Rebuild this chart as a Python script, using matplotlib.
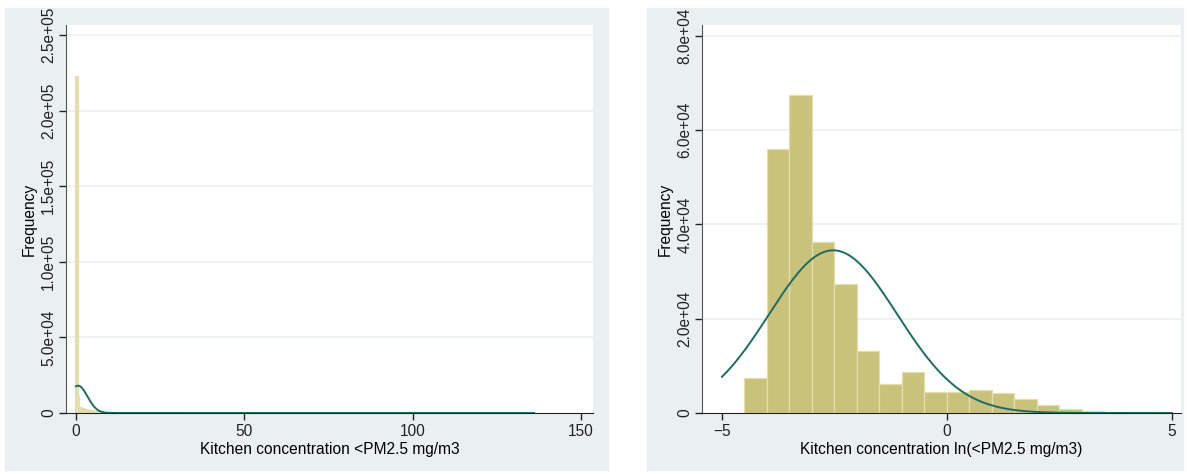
import numpy as np
from matplotlib import pyplot as plt
from matplotlib.patches import Rectangle

# left panel: raw concentration, bin width 0.5 starting at 0
left_bin_width = 0.5
left_counts = [222000, 10500, 3200, 2700, 2400, 2100, 1800, 1500, 1300, 1100,
               900, 800, 650, 550, 450, 400, 300, 250, 200, 160, 130, 100, 80]
left_mean, left_sd = 0.6, 2.8
left_range = (0, 136)
left_xticks = [0, 50, 100, 150]
left_yticks = [0, 5.0e4, 1.0e5, 1.5e5, 2.0e5, 2.5e5]
left_ytick_labels = ['0', '5.0e+04', '1.0e+05', '1.5e+05', '2.0e+05', '2.5e+05']

# right panel: log concentration, bin width 0.5 starting at -4.5
right_bin_start = -4.5
right_bin_width = 0.5
right_counts = [7400, 56000, 67500, 36200, 27300, 13200, 6100, 8700, 4500, 4400,
                4800, 4200, 3000, 1700, 900, 490, 150, 50]
right_mean, right_sd = -2.53, 1.425
right_range = (-5, 5)
right_xticks = [-5, 0, 5]
right_yticks = [0, 2.0e4, 4.0e4, 6.0e4, 8.0e4]
right_ytick_labels = ['0', '2.0e+04', '4.0e+04', '6.0e+04', '8.0e+04']

BAR = '#c9c27c'
BAR_EDGE = '#e2deaf'
CURVE = '#1f6b5f'
PANEL = '#eaf0f2'

plt.rcParams['font.family'] = ['Liberation Sans', 'DejaVu Sans']
plt.rcParams['font.size'] = 11.2


def normal_overlay(mean, sd, n, width, lo, hi):
    x = np.linspace(lo, hi, 600)
    y = n * width / (sd * np.sqrt(2 * np.pi)) * np.exp(-0.5 * ((x - mean) / sd) ** 2)
    return x, y


def draw_hist(ax, edges, counts, mean, sd, width, xrange_, xticks, yticks, ylabels,
              xlim, ylim, xlabel, edge_lw=0.9):
    ax.set_facecolor('white')
    ax.bar(edges[:-1], counts, width=np.diff(edges), align='edge',
           color=BAR, edgecolor=BAR_EDGE, linewidth=edge_lw, zorder=2)
    x, y = normal_overlay(mean, sd, sum(counts), width, *xrange_)
    ax.plot(x, y, color=CURVE, lw=1.4, zorder=3)
    ax.set_xlim(*xlim)
    ax.set_ylim(*ylim)
    ax.set_xticks(xticks)
    ax.set_yticks(yticks)
    ax.set_yticklabels(ylabels, rotation=90, va='center')
    for yt in yticks[1:]:
        ax.axhline(yt, color=PANEL, lw=1.2, zorder=1)
    for s in ['top', 'right']:
        ax.spines[s].set_visible(False)
    ax.spines['left'].set_color('#555555')
    ax.spines['bottom'].set_color('#222222')
    ax.tick_params(direction='out', length=5, width=1, colors='#222222', pad=3)
    ax.tick_params(axis='y', pad=2)
    ax.set_xlabel(xlabel, labelpad=2)
    ax.set_ylabel('Frequency', labelpad=3)


fig = plt.figure(figsize=(11.87, 4.74), dpi=100)
W, H = 1187, 474
fig.patches.append(Rectangle((5 / W, 4 / H), 603 / W, 462 / H,
                             transform=fig.transFigure, color=PANEL, zorder=-10))
fig.patches.append(Rectangle((647 / W, 4 / H), 536 / W, 462 / H,
                             transform=fig.transFigure, color=PANEL, zorder=-10))

ax1 = fig.add_axes([66 / W, 61 / H, 527 / W, 388 / H])
left_edges = left_range[0] + left_bin_width * np.arange(len(left_counts) + 1)
draw_hist(ax1, left_edges, left_counts, left_mean, left_sd, left_bin_width,
          left_range, left_xticks, left_yticks, left_ytick_labels,
          (-2.97, 153.5), (0, 2.566e5), 'Kitchen concentration <PM2.5 mg/m3',
          edge_lw=1.6)

ax2 = fig.add_axes([702 / W, 61 / H, 479 / W, 388 / H])
right_edges = right_bin_start + right_bin_width * np.arange(len(right_counts) + 1)
draw_hist(ax2, right_edges, right_counts, right_mean, right_sd, right_bin_width,
          right_range, right_xticks, right_yticks, right_ytick_labels,
          (-5.444, 5.2), (0, 8.233e4), 'Kitchen concentration ln(<PM2.5 mg/m3)')

fig.savefig('out.png', dpi=100)
